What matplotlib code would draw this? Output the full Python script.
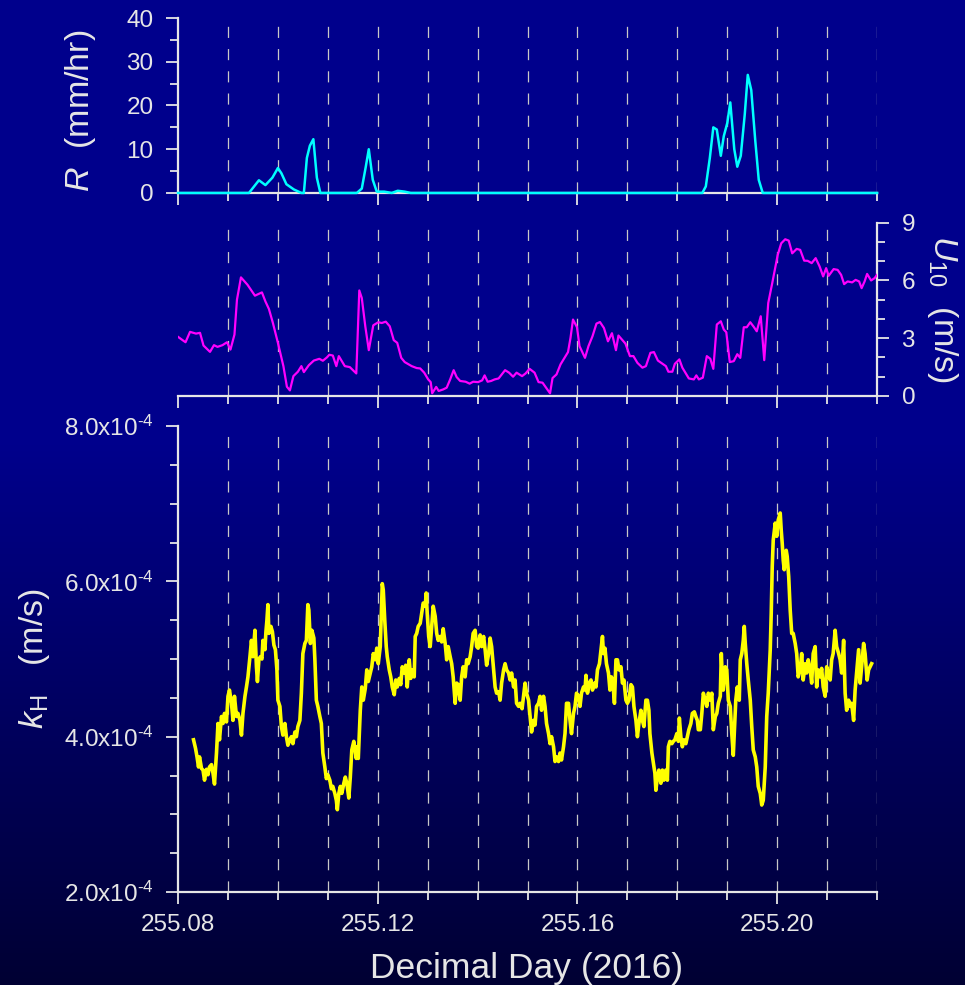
import numpy as np
import matplotlib
matplotlib.use('Agg')
import matplotlib.pyplot as plt
from matplotlib.ticker import MultipleLocator, FuncFormatter

plt.rcParams['font.family'] = ['Liberation Sans', 'DejaVu Sans']
plt.rcParams['mathtext.fontset'] = 'custom'
plt.rcParams['mathtext.rm'] = 'Liberation Sans'
plt.rcParams['mathtext.it'] = 'Liberation Sans:italic'
plt.rcParams['lines.scale_dashes'] = False

FG = '#e6e6e6'
GRID = '#c8c8c8'

# rain rate R (mm/hr)
rain_day = [255.0800, 255.0942, 255.0962, 255.0975, 255.0989, 255.1000, 255.1007,
            255.1017, 255.1032, 255.1047, 255.1052, 255.1058, 255.1064, 255.1071,
            255.1078, 255.1085, 255.1158, 255.1168, 255.1176, 255.1182, 255.1190,
            255.1198, 255.1213, 255.1228, 255.1240, 255.1254, 255.1266, 255.1850,
            255.1857, 255.1865, 255.1872, 255.1879, 255.1887, 255.1893, 255.1900,
            255.1906, 255.1914, 255.1920, 255.1927, 255.1935, 255.1941, 255.1948,
            255.1956, 255.1963, 255.1971, 255.2200]
rain_rate = [0, 0, 2.9, 1.8, 3.5, 5.7, 4.5,
             2.0, 0.8, 0, 0, 8.0, 10.8, 12.3,
             3.5, 0, 0, 1.0, 6.0, 10.0, 3.0,
             0.3, 0.3, 0, 0.5, 0.3, 0, 0,
             1.5, 8.0, 15.0, 14.5, 8.5, 13.0, 16.0,
             20.7, 10.0, 6.0, 8.5, 18.0, 27.0, 23.5,
             12.0, 3.0, 0, 0]

# wind speed U10 (m/s)
wind_day = [255.0800, 255.0815, 255.0824, 255.0836, 255.0844, 255.0851, 255.0864, 255.0872,
            255.0879, 255.0889, 255.0898, 255.0905, 255.0913, 255.0918, 255.0926, 255.0939,
            255.0954, 255.0968, 255.0975, 255.0982, 255.0990, 255.1000, 255.1011, 255.1018,
            255.1024, 255.1031, 255.1040, 255.1047, 255.1052, 255.1062, 255.1072, 255.1083,
            255.1090, 255.1098, 255.1103, 255.1110, 255.1117, 255.1122, 255.1134, 255.1144,
            255.1157, 255.1163, 255.1168, 255.1175, 255.1182, 255.1191, 255.1201, 255.1208,
            255.1216, 255.1224, 255.1232, 255.1239, 255.1247, 255.1254, 255.1268, 255.1278,
            255.1285, 255.1293, 255.1301, 255.1306, 255.1309, 255.1317, 255.1322, 255.1331,
            255.1338, 255.1345, 255.1352, 255.1358, 255.1365, 255.1376, 255.1384, 255.1391,
            255.1401, 255.1409, 255.1414, 255.1420, 255.1427, 255.1434, 255.1442, 255.1455,
            255.1463, 255.1471, 255.1478, 255.1489, 255.1496, 255.1504, 255.1514, 255.1522,
            255.1530, 255.1545, 255.1550, 255.1558, 255.1566, 255.1581, 255.1586, 255.1591,
            255.1599, 255.1604, 255.1615, 255.1622, 255.1630, 255.1638, 255.1645, 255.1653,
            255.1661, 255.1669, 255.1677, 255.1682, 255.1689, 255.1696, 255.1705, 255.1712,
            255.1720, 255.1730, 255.1737, 255.1746, 255.1753, 255.1761, 255.1777, 255.1782,
            255.1790, 255.1795, 255.1804, 255.1810, 255.1823, 255.1833, 255.1838, 255.1843,
            255.1851, 255.1859, 255.1866, 255.1872, 255.1879, 255.1887, 255.1893, 255.1898,
            255.1905, 255.1913, 255.1920, 255.1926, 255.1933, 255.1939, 255.1946, 255.1953,
            255.1959, 255.1967, 255.1974, 255.1982, 255.1990, 255.2001, 255.2008, 255.2016,
            255.2023, 255.2030, 255.2039, 255.2046, 255.2054, 255.2061, 255.2069, 255.2077,
            255.2085, 255.2092, 255.2098, 255.2103, 255.2113, 255.2121, 255.2128, 255.2134,
            255.2141, 255.2150, 255.2157, 255.2164, 255.2169, 255.2175, 255.2180, 255.2188,
            255.2195, 255.2200]
wind_u10 = [3.07, 2.79, 3.33, 3.24, 3.28, 2.62, 2.29, 2.64,
            2.55, 2.64, 2.79, 2.41, 3.19, 5.00, 6.16, 5.78,
            5.21, 5.38, 4.91, 4.52, 3.79, 2.76, 1.55, 0.48,
            0.29, 1.03, 1.26, 1.55, 1.24, 1.60, 1.84, 1.93,
            1.83, 2.00, 2.14, 2.10, 1.55, 2.07, 1.55, 1.50,
            1.17, 5.48, 5.09, 3.62, 2.38, 3.67, 3.83, 3.79,
            3.86, 3.62, 2.90, 2.76, 1.98, 1.76, 1.55, 1.45,
            1.43, 1.21, 0.86, 0.72, 0.14, 0.47, 0.26, 0.34,
            0.43, 0.86, 1.34, 0.98, 0.78, 0.74, 0.64, 0.74,
            0.72, 0.81, 1.07, 0.74, 0.78, 0.86, 0.91, 1.34,
            1.21, 1.00, 1.21, 1.03, 1.17, 1.41, 1.21, 0.72,
            0.69, 0.14, 0.93, 1.12, 1.64, 2.28, 3.02, 3.97,
            3.57, 2.59, 1.98, 2.59, 3.10, 3.76, 3.84, 3.53,
            2.84, 3.26, 2.38, 3.14, 2.93, 2.72, 2.07, 2.07,
            1.72, 1.47, 1.55, 2.24, 2.28, 1.84, 1.55, 1.26,
            1.26, 1.67, 1.90, 1.47, 0.91, 0.86, 1.07, 0.86,
            0.95, 2.07, 1.93, 1.41, 3.71, 3.88, 3.45, 3.31,
            1.76, 1.81, 2.17, 1.98, 3.57, 3.57, 3.83, 3.59,
            3.36, 4.14, 1.86, 4.83, 5.86, 7.33, 7.93, 8.14,
            8.07, 7.41, 7.64, 7.59, 7.03, 7.02, 6.90, 7.16,
            6.72, 6.21, 6.64, 6.24, 6.59, 6.55, 6.29, 5.81,
            5.95, 5.90, 6.03, 5.95, 5.60, 5.95, 6.34, 6.00,
            6.12, 6.29]

# heat transfer velocity kH (x1e-4 m/s)
kh_day = [255.0831, 255.0835, 255.0838, 255.0841, 255.0843, 255.0847, 255.0850, 255.0853,
          255.0857, 255.0860, 255.0863, 255.0867, 255.0870, 255.0873, 255.0877, 255.0880,
          255.0883, 255.0887, 255.0890, 255.0893, 255.0897, 255.0900, 255.0903, 255.0907,
          255.0910, 255.0913, 255.0917, 255.0920, 255.0924, 255.0927, 255.0930, 255.0934,
          255.0937, 255.0940, 255.0944, 255.0947, 255.0950, 255.0954, 255.0957, 255.0959,
          255.0962, 255.0965, 255.0968, 255.0970, 255.0974, 255.0976, 255.0978, 255.0980,
          255.0982, 255.0986, 255.0989, 255.0992, 255.0995, 255.0998, 255.1000, 255.1004,
          255.1007, 255.1010, 255.1014, 255.1017, 255.1020, 255.1024, 255.1027, 255.1030,
          255.1034, 255.1037, 255.1040, 255.1044, 255.1047, 255.1050, 255.1054, 255.1057,
          255.1060, 255.1062, 255.1065, 255.1068, 255.1072, 255.1074, 255.1077, 255.1080,
          255.1084, 255.1087, 255.1090, 255.1094, 255.1097, 255.1100, 255.1104, 255.1107,
          255.1110, 255.1114, 255.1117, 255.1119, 255.1122, 255.1125, 255.1128, 255.1132,
          255.1135, 255.1138, 255.1142, 255.1145, 255.1148, 255.1152, 255.1157,
          255.1158, 255.1161, 255.1165, 255.1168, 255.1171, 255.1175, 255.1178, 255.1181,
          255.1185, 255.1188, 255.1191, 255.1195, 255.1198, 255.1201, 255.1205, 255.1207,
          255.1209, 255.1211, 255.1214, 255.1217, 255.1219, 255.1223, 255.1226, 255.1229,
          255.1233, 255.1236, 255.1239, 255.1243, 255.1246, 255.1249, 255.1253, 255.1256,
          255.1259, 255.1263, 255.1266, 255.1269, 255.1273, 255.1275, 255.1278, 255.1281,
          255.1285, 255.1288, 255.1291, 255.1295, 255.1297, 255.1299, 255.1302, 255.1305,
          255.1308, 255.1311, 255.1315, 255.1318, 255.1321, 255.1325, 255.1328, 255.1331,
          255.1335, 255.1338, 255.1341, 255.1345, 255.1348, 255.1351, 255.1355, 255.1358,
          255.1361, 255.1365, 255.1368, 255.1371, 255.1375, 255.1378, 255.1381, 255.1385,
          255.1388, 255.1391, 255.1395, 255.1398, 255.1401, 255.1405, 255.1408, 255.1412,
          255.1415, 255.1418, 255.1422, 255.1425, 255.1428, 255.1432, 255.1435, 255.1438,
          255.1442, 255.1445, 255.1448, 255.1452, 255.1455, 255.1458, 255.1462, 255.1465,
          255.1468, 255.1472, 255.1475, 255.1478, 255.1482, 255.1485, 255.1489, 255.1492,
          255.1495, 255.1498, 255.1502, 255.1505, 255.1508, 255.1512, 255.1515, 255.1518,
          255.1522, 255.1525, 255.1528, 255.1532, 255.1535, 255.1538, 255.1542, 255.1545,
          255.1548, 255.1552, 255.1555, 255.1558, 255.1562, 255.1565, 255.1568, 255.1572,
          255.1575, 255.1578, 255.1582, 255.1585, 255.1588, 255.1592, 255.1595, 255.1598,
          255.1602, 255.1605, 255.1608, 255.1612, 255.1615, 255.1617, 255.1620, 255.1624,
          255.1627, 255.1630, 255.1634, 255.1637, 255.1640, 255.1644, 255.1647, 255.1650,
          255.1652, 255.1655, 255.1658, 255.1662, 255.1665, 255.1668, 255.1672, 255.1674,
          255.1677, 255.1680, 255.1683, 255.1687, 255.1690, 255.1693, 255.1697, 255.1700,
          255.1703, 255.1707, 255.1710, 255.1713, 255.1717, 255.1720, 255.1723, 255.1727,
          255.1730, 255.1733, 255.1737, 255.1740, 255.1743, 255.1745, 255.1749, 255.1752,
          255.1755, 255.1757, 255.1760, 255.1763, 255.1767, 255.1770, 255.1773, 255.1777,
          255.1780, 255.1782, 255.1785, 255.1789, 255.1792, 255.1795, 255.1799, 255.1802,
          255.1804, 255.1807, 255.1810, 255.1813, 255.1817, 255.1820, 255.1823, 255.1827,
          255.1830, 255.1834, 255.1837, 255.1840, 255.1842,
          255.1846, 255.1849, 255.1852, 255.1856, 255.1859, 255.1862, 255.1866, 255.1869,
          255.1872, 255.1876, 255.1879, 255.1882, 255.1886, 255.1888, 255.1890, 255.1892,
          255.1896, 255.1899, 255.1902, 255.1906, 255.1909, 255.1912, 255.1914, 255.1917,
          255.1920, 255.1924, 255.1926, 255.1929, 255.1932, 255.1934, 255.1936, 255.1939,
          255.1942, 255.1946, 255.1949, 255.1952, 255.1956, 255.1959, 255.1962, 255.1966,
          255.1969, 255.1972, 255.1976, 255.1979, 255.1982, 255.1986, 255.1988, 255.1990,
          255.1992, 255.1996, 255.1999, 255.2002, 255.2006, 255.2008, 255.2010, 255.2012,
          255.2014, 255.2018, 255.2020, 255.2023, 255.2026, 255.2029, 255.2032, 255.2036,
          255.2039, 255.2042, 255.2046, 255.2049, 255.2052, 255.2056, 255.2059, 255.2062,
          255.2066, 255.2069, 255.2072, 255.2076, 255.2079, 255.2082, 255.2086, 255.2089,
          255.2092, 255.2096, 255.2099, 255.2102, 255.2106, 255.2109, 255.2112, 255.2116,
          255.2119, 255.2123, 255.2126, 255.2129, 255.2133, 255.2136, 255.2139, 255.2143,
          255.2146, 255.2149, 255.2153, 255.2156, 255.2159, 255.2163, 255.2166, 255.2169,
          255.2173, 255.2176, 255.2180, 255.2183, 255.2186, 255.2189]
kh_val = [3.96, 3.85, 3.74, 3.61, 3.74, 3.59, 3.57, 3.44,
          3.58, 3.51, 3.61, 3.64, 3.53, 3.39, 3.79, 4.17,
          3.96, 4.26, 4.17, 4.30, 4.19, 4.52, 4.60, 4.43,
          4.21, 4.52, 4.26, 4.30, 4.21, 4.02, 4.30, 4.52,
          4.64, 4.77, 5.03, 5.24, 5.03, 5.37, 4.90, 4.71,
          5.00, 5.03, 5.00, 5.24, 5.12, 5.35, 5.50, 5.70,
          5.33, 5.42, 5.35, 5.18, 5.12, 4.86, 4.47, 4.39,
          4.13, 4.02, 4.17, 4.00, 3.89, 3.96, 4.00, 3.91,
          4.06, 4.00, 4.13, 4.21, 4.56, 5.07, 5.20, 5.24,
          5.70, 5.63, 5.20, 5.37, 5.27, 5.00, 4.47, 4.39,
          4.26, 4.17, 3.79, 3.61, 3.46, 3.51, 3.44, 3.33,
          3.36, 3.27, 3.18, 3.06, 3.27, 3.36, 3.27, 3.40,
          3.48, 3.40, 3.21, 3.48, 3.83, 3.94, 3.72,
          3.87, 3.72, 4.34, 4.64, 4.47, 4.62, 4.86, 4.71,
          4.82, 4.90, 5.07, 4.99, 5.14, 4.94, 5.16, 5.55,
          5.97, 5.89, 5.50, 5.16, 5.03, 4.86, 4.77, 4.64,
          4.54, 4.73, 4.64, 4.75, 4.67, 4.90, 4.82, 4.92,
          4.64, 4.99, 4.75, 4.86, 4.77, 5.29, 5.33, 5.42,
          5.46, 5.59, 5.72, 5.68, 5.85, 5.59, 5.29, 5.16,
          5.42, 5.68, 5.55, 5.33, 5.24, 5.29, 5.22, 5.39,
          5.20, 4.99, 5.16, 5.03, 4.94, 4.77, 4.43, 4.69,
          4.67, 4.47, 4.77, 4.90, 4.77, 4.99, 4.94, 5.03,
          5.16, 5.33, 5.37, 5.16, 5.14, 5.31, 5.16, 5.29,
          5.12, 4.92, 5.07, 5.27, 5.16, 4.86, 4.64, 4.56,
          4.58, 4.47, 4.69, 4.86, 4.94, 4.86, 4.82, 4.73,
          4.82, 4.64, 4.73, 4.43, 4.39, 4.43, 4.36, 4.52,
          4.69, 4.56, 4.47, 4.26, 4.06, 4.21, 4.15, 4.39,
          4.43, 4.52, 4.34, 4.52, 4.39, 4.17, 4.04, 3.91,
          4.00, 3.87, 3.68, 3.74, 3.68, 3.79, 3.70, 3.87,
          4.04, 4.43, 4.43, 4.21, 4.04, 4.30, 4.39, 4.56,
          4.52, 4.39, 4.56, 4.64, 4.60, 4.79, 4.56, 4.69,
          4.73, 4.60, 4.69, 4.64, 4.86, 4.94, 5.12, 5.29,
          5.07, 5.14, 4.94, 4.82, 4.60, 4.77, 4.60, 4.43,
          4.99, 4.99, 4.86, 4.90, 4.69, 4.73, 4.47, 4.43,
          4.47, 4.67, 4.64, 4.39, 4.21, 4.00, 4.17, 4.34,
          4.21, 4.13, 4.47, 4.47, 4.34, 4.04, 3.79, 3.66,
          3.53, 3.31, 3.48, 3.57, 3.40, 3.57, 3.44, 3.57,
          3.44, 3.87, 3.94, 3.91, 3.94, 3.96, 4.04, 3.94,
          4.24, 4.00, 3.87, 3.96, 3.91, 4.00, 4.09, 4.17,
          4.30, 4.32, 4.26, 4.21, 4.09,
          4.09, 4.30, 4.56, 4.47, 4.39, 4.56, 4.47, 4.56,
          4.09, 4.26, 4.30, 4.43, 4.52, 5.07, 4.77, 4.60,
          4.90, 4.86, 4.47, 4.39, 4.04, 3.76, 4.04, 4.47,
          4.64, 4.47, 4.99, 5.07, 5.24, 5.42, 5.20, 4.94,
          4.73, 4.47, 4.13, 3.83, 3.74, 3.61, 3.36, 3.27,
          3.12, 3.18, 3.61, 4.26, 4.56, 5.12, 5.59, 6.19,
          6.53, 6.75, 6.58, 6.79, 6.88, 6.66, 6.49, 6.27,
          6.15, 6.40, 6.32, 6.06, 5.63, 5.33, 5.33, 5.20,
          5.07, 4.77, 4.86, 5.07, 4.73, 4.94, 4.82, 4.99,
          4.86, 4.69, 5.07, 5.16, 4.64, 4.86, 4.77, 4.88,
          4.64, 4.52, 4.90, 4.82, 4.73, 4.99, 5.07, 5.37,
          5.16, 5.07, 4.99, 4.82, 5.24, 4.56, 4.34, 4.47,
          4.39, 4.43, 4.21, 4.60, 4.82, 5.12, 4.69, 4.90,
          5.20, 5.07, 4.73, 4.86, 4.90, 4.94]

x_major = [255.08, 255.12, 255.16, 255.20]
x_grid = [255.09, 255.10, 255.11, 255.12, 255.13, 255.14, 255.15,
          255.16, 255.17, 255.18, 255.19, 255.20, 255.21, 255.22]
x_lim = (255.08, 255.22)


def style_axis(ax, side):
    ax.set_facecolor('none')
    for s in ['top', 'right', 'left', 'bottom']:
        ax.spines[s].set_visible(False)
    ax.spines['bottom'].set_visible(True)
    ax.spines[side].set_visible(True)
    for s in ax.spines.values():
        s.set_color(FG)
        s.set_linewidth(1.6)
    ax.set_xlim(*x_lim)
    ax.xaxis.set_major_locator(matplotlib.ticker.FixedLocator(x_major))
    ax.xaxis.set_minor_locator(MultipleLocator(0.01))
    ax.tick_params(which='both', colors=FG, width=1.3, direction='out')
    ax.tick_params(which='major', length=8.6, labelsize=17.5)
    ax.tick_params(which='minor', length=5.5)
    ax.tick_params(axis='y', which='major', pad=9)
    ax.tick_params(axis='x', which='major', pad=7)
    for d in x_grid:
        ax.axvline(d, color=GRID, lw=0.9, dashes=(8, 8), zorder=0)
    if side == 'right':
        ax.yaxis.tick_right()
        ax.yaxis.set_label_position('right')


def kh_label(v, pos):
    # hyphen rather than a math minus, as on the original slide
    return f'{v * 1e4:.1f}x10' + r'$^{\text{-}4}$'


fig = plt.figure(figsize=(9.65, 9.85), dpi=100)

# background gradient
bg = fig.add_axes([0, 0, 1, 1], zorder=-10)
yy = np.linspace(0, 1, 400)[:, None]
t = np.clip((0.55 - yy) / 0.55, 0, 1)
top_c = np.array([0.0, 0.0, 0.55])
bot_c = np.array([0.0, 0.0, 0.2])
grad = top_c[None, None, :] * (1 - t[..., None]) + bot_c[None, None, :] * t[..., None]
bg.imshow(grad, aspect='auto', origin='lower', extent=[0, 1, 0, 1])
bg.set_axis_off()

L, W = 0.1845, 0.7244
ax1 = fig.add_axes([L, 0.8041, W, 0.1776])
ax2 = fig.add_axes([L, 0.5980, W, 0.1759])
ax3 = fig.add_axes([L, 0.0944, W, 0.4731])

# rain
style_axis(ax1, 'left')
ax1.plot(rain_day, rain_rate, color='#00ffff', lw=1.8, clip_on=False, zorder=3)
ax1.set_ylim(0, 40)
ax1.yaxis.set_major_locator(MultipleLocator(10))
ax1.yaxis.set_minor_locator(MultipleLocator(5))
ax1.tick_params(axis='x', labelbottom=False)
ax1.set_ylabel(r'$R$  (mm/hr)', color=FG, fontsize=24.5)
ax1.yaxis.set_label_coords(-0.115, 0.47)

# wind
style_axis(ax2, 'right')
ax2.plot(wind_day, wind_u10, color='#ff00ff', lw=1.6, zorder=3)
ax2.set_ylim(0, 9)
ax2.yaxis.set_major_locator(MultipleLocator(3))
ax2.yaxis.set_minor_locator(MultipleLocator(1))
ax2.tick_params(axis='x', labelbottom=False)
ax2.set_ylabel(r'$U_{10}$  (m/s)', color=FG, fontsize=24.5, rotation=-90)
ax2.yaxis.set_label_coords(1.118, 0.5)

# heat transfer velocity
style_axis(ax3, 'left')
ax3.plot(kh_day, np.array(kh_val) * 1e-4, color='#ffff00', lw=2.6, zorder=3)
ax3.set_ylim(2e-4, 8e-4)
ax3.yaxis.set_major_locator(MultipleLocator(2e-4))
ax3.yaxis.set_minor_locator(MultipleLocator(0.5e-4))
ax3.yaxis.set_major_formatter(FuncFormatter(kh_label))
ax3.xaxis.set_major_formatter(FuncFormatter(lambda v, p: f'{v:.2f}'))
ax3.set_ylabel(r'$k_\mathrm{H}$   (m/s)', color=FG, fontsize=24.5)
ax3.yaxis.set_label_coords(-0.18, 0.5)
ax3.set_xlabel('Decimal Day (2016)', color=FG, fontsize=25.5)
ax3.xaxis.set_label_coords(0.499, -0.128)

fig.savefig('out.png', dpi=100)
